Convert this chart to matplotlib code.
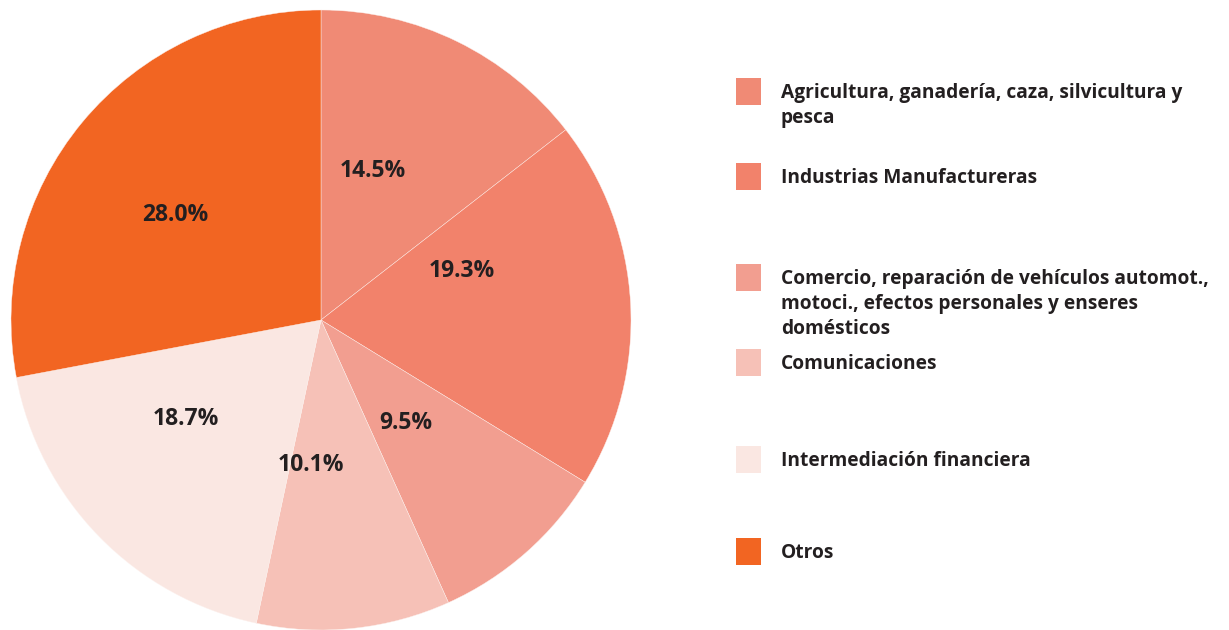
"""Pie chart: distribución por sector."""

import numpy as np
import matplotlib
matplotlib.use("Agg")
import matplotlib.pyplot as plt
from matplotlib.patches import Rectangle

sectors = [
    "Agricultura, ganadería, caza, silvicultura y\npesca",
    "Industrias Manufactureras",
    "Comercio, reparación de vehículos automot.,\nmotoci., efectos personales y enseres\ndomésticos",
    "Comunicaciones",
    "Intermediación financiera",
    "Otros",
]
shares = [14.5, 19.3, 9.5, 10.1, 18.7, 28.0]
colors = ["#F08A75", "#F2826B", "#F29E90", "#F6C1B7", "#FAE7E2", "#F26522"]

# label placement tweaks (fraction of radius, angle nudge in degrees, ccw)
label_r = [0.51, 0.48, 0.43, 0.47, 0.54, 0.58]
label_nudge = [7, 16, -2, -10, -8, 4]
# legend square tops in pixels from the top of the figure
legend_tops = [78, 163, 264, 349, 446, 538]

plt.rcParams["font.family"] = ["Open Sans", "DejaVu Sans"]
text_color = "#231F20"

W, H = 1229, 630
fig = plt.figure(figsize=(W / 100, H / 100), dpi=100)
ax = fig.add_axes([11 / W, 0 / H, 620 / W, 620 / H])

wedges, _ = ax.pie(
    shares,
    colors=colors,
    startangle=90,
    counterclock=False,
    radius=1.0,
    wedgeprops=dict(edgecolor="#FDF0EC", linewidth=0.3),
)
ax.set_xlim(-1, 1)
ax.set_ylim(-1, 1)
ax.set_aspect("equal")

for w, val, r, nudge in zip(wedges, shares, label_r, label_nudge):
    ang = np.deg2rad((w.theta1 + w.theta2) / 2 + nudge)
    ax.text(r * np.cos(ang), r * np.sin(ang), f"{val:.1f}%",
            ha="center", va="center", fontsize=16.5, fontweight="bold",
            color=text_color)

# hand-placed legend on the right
for name, col, top in zip(sectors, colors, legend_tops):
    fig.add_artist(Rectangle((736 / W, 1 - (top + 27) / H), 25 / W, 27 / H,
                             transform=fig.transFigure, facecolor=col,
                             edgecolor="none"))
    fig.text(781 / W, 1 - (top + 5) / H, name, ha="left", va="top",
             fontsize=13.8, fontweight="bold", color=text_color,
             linespacing=1.35)

fig.savefig("out.png", dpi=100)
plt.close(fig)
